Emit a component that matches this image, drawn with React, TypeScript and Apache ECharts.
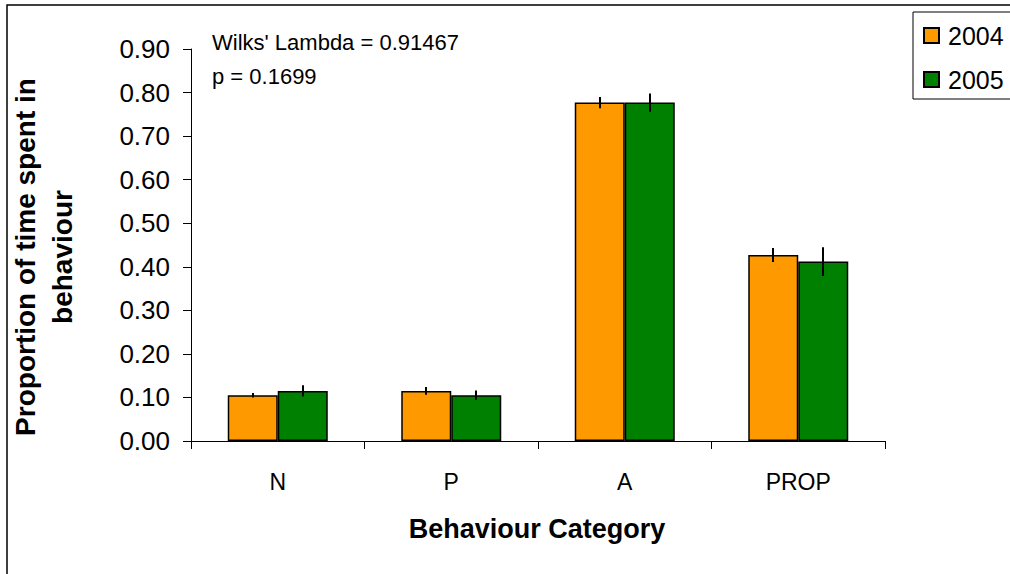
import React, { useEffect, useRef } from "react";
import * as echarts from "echarts";

const categories = ["N", "P", "A", "PROP"];
const seriesNames = ["2004", "2005"];
const values2004 = [0.105, 0.115, 0.777, 0.427];
const values2005 = [0.115, 0.105, 0.777, 0.412];
const errors2004 = [0.005, 0.009, 0.013, 0.016];
const errors2005 = [0.013, 0.011, 0.021, 0.033];
const yTicks = { min: 0, max: 0.9, interval: 0.1 };
const colors = ["#FF9900", "#008000"];
const annotationLines = ["Wilks' Lambda = 0.91467", "p = 0.1699"];
const xAxisTitle = "Behaviour Category";
const yAxisTitle = "Proportion of time spent in\nbehaviour";

const FONT = "'Liberation Sans', Arial, sans-serif";
const BAR_WIDTH = 50;

export default function App() {
  const ref = useRef<HTMLDivElement>(null);
  useEffect(() => {
    if (!ref.current) return;
    const chart = echarts.init(ref.current, null, { renderer: "svg" });

    const errorSeries = (vals: number[], errs: number[], offset: number, name: string) => ({
      type: "custom",
      name: name + " err",
      data: vals.map((v, i) => [i, v, errs[i]]),
      z: 10,
      silent: true,
      renderItem: (params: any, api: any) => {
        const i = api.value(0);
        const v = api.value(1);
        const e = api.value(2);
        const top = api.coord([i, v + e]);
        const bot = api.coord([i, v - e]);
        const x = Math.round(top[0] + offset);
        return {
          type: "line",
          shape: { x1: x, y1: top[1], x2: x, y2: bot[1] },
          style: { stroke: "#000", lineWidth: 2 },
        };
      },
    });

    chart.setOption({
      animation: false,
      textStyle: { fontFamily: FONT },
      grid: { left: 191, right: 125, top: 49, bottom: 133, containLabel: false },
      legend: {
        orient: "vertical",
        left: 918,
        top: 18,
        itemWidth: 15,
        itemHeight: 15,
        itemGap: 19,
        icon: "rect",
        data: seriesNames,
        textStyle: { fontSize: 25, color: "#000", fontFamily: FONT, lineHeight: 25, padding: [0, 0, 0, 4] },
        selectedMode: false,
      },
      xAxis: {
        type: "category",
        data: categories,
        axisLine: { lineStyle: { color: "#000", width: 1 } },
        axisTick: { show: true, length: 8, lineStyle: { color: "#000" } },
        axisLabel: { fontSize: 23, color: "#000", margin: 29, fontFamily: FONT },
        splitLine: { show: false },
      },
      yAxis: {
        type: "value",
        min: yTicks.min,
        max: yTicks.max,
        interval: yTicks.interval,
        axisLine: { show: true, lineStyle: { color: "#000", width: 1 } },
        axisTick: { show: true, length: 8, lineStyle: { color: "#000" } },
        axisLabel: {
          fontSize: 26,
          color: "#000",
          margin: 21,
          fontFamily: FONT,
          formatter: (v: number) => v.toFixed(2),
        },
        splitLine: { show: false },
      },
      series: [
        {
          type: "bar",
          name: seriesNames[0],
          data: values2004,
          barWidth: BAR_WIDTH,
          barGap: "0%",
          itemStyle: { color: colors[0], borderColor: "#000", borderWidth: 1.5 },
        },
        {
          type: "bar",
          name: seriesNames[1],
          data: values2005,
          barWidth: BAR_WIDTH,
          barGap: "0%",
          itemStyle: { color: colors[1], borderColor: "#000", borderWidth: 1.5 },
        },
        errorSeries(values2004, errors2004, -BAR_WIDTH / 2, seriesNames[0]),
        errorSeries(values2005, errors2005, BAR_WIDTH / 2, seriesNames[1]),
      ],
      graphic: [
        {
          type: "rect",
          shape: { x: 7, y: 5, width: 1200, height: 1000 },
          style: { fill: "none", stroke: "#000", lineWidth: 1.5 },
          silent: true,
          z: -1,
        },
        {
          type: "rect",
          shape: { x: 913, y: 12, width: 200, height: 87 },
          style: { fill: "#fff", stroke: "#000", lineWidth: 1 },
          silent: true,
          z: -1,
        },
        {
          type: "text",
          x: 212,
          y: 42,
          style: {
            text: annotationLines[0],
            font: `22px ${FONT}`,
            fill: "#000",
            textAlign: "left",
            textVerticalAlign: "middle",
          },
        },
        {
          type: "text",
          x: 212,
          y: 76,
          style: {
            text: annotationLines[1],
            font: `22px ${FONT}`,
            fill: "#000",
            textAlign: "left",
            textVerticalAlign: "middle",
          },
        },
        {
          type: "text",
          x: 537,
          y: 529,
          style: {
            text: xAxisTitle,
            font: `bold 27px ${FONT}`,
            fill: "#000",
            textAlign: "center",
            textVerticalAlign: "middle",
          },
        },
        {
          type: "text",
          x: 44,
          y: 257,
          rotation: Math.PI / 2,
          style: {
            text: yAxisTitle,
            font: `bold 28px ${FONT}`,
            lineHeight: 37,
            fill: "#000",
            textAlign: "center",
            textVerticalAlign: "middle",
          },
        },
      ],
    });
    return () => chart.dispose();
  }, []);
  return (
    <div
      ref={ref}
      style={{ position: "fixed", left: 0, top: 0, width: 1010, height: 574, background: "#fff" }}
    />
  );
}
